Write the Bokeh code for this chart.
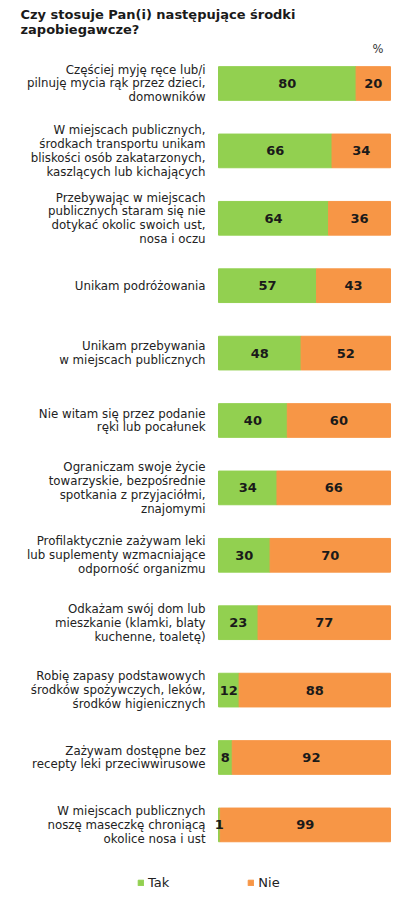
from bokeh.plotting import figure
from bokeh.models import ColumnDataSource, Range1d, Label, Legend, LegendItem
from bokeh.core.properties import value
from bokeh.embed import file_html
from bokeh.resources import INLINE

categories = [
    "Częściej myję ręce lub/i\npilnuję mycia rąk przez dzieci,\ndomowników",
    "W miejscach publicznych,\nśrodkach transportu unikam\nbliskości osób zakatarzonych,\nkaszlących lub kichających",
    "Przebywając w miejscach\npublicznych staram się nie\ndotykać okolic swoich ust,\nnosa i oczu",
    "Unikam podróżowania",
    "Unikam przebywania\nw miejscach publicznych",
    "Nie witam się przez podanie\nręki lub pocałunek",
    "Ograniczam swoje życie\ntowarzyskie, bezpośrednie\nspotkania z przyjaciółmi,\nznajomymi",
    "Profilaktycznie zażywam leki\nlub suplementy wzmacniające\nodporność organizmu",
    "Odkażam swój dom lub\nmieszkanie (klamki, blaty\nkuchenne, toaletę)",
    "Robię zapasy podstawowych\nśrodków spożywczych, leków,\nśrodków higienicznych",
    "Zażywam dostępne bez\nrecepty leki przeciwwirusowe",
    "W miejscach publicznych\nnoszę maseczkę chroniącą\nokolice nosa i ust",
]
tak = [80, 66, 64, 57, 48, 40, 34, 30, 23, 12, 8, 1]
nie = [20, 34, 36, 43, 52, 60, 66, 70, 77, 88, 92, 99]
series_names = ["Tak", "Nie"]
title_lines = ["Czy stosuje Pan(i) następujące środki", "zapobiegawcze?"]
unit_label = "%"

GREEN = "#92D050"
ORANGE = "#F79646"
FONT = "DejaVu Sans"

W, H = 397, 907
n = len(categories)
ys = list(range(n))
src = ColumnDataSource(dict(
    y=ys, tak=tak, nie=nie, label=categories,
    tak_mid=[t / 2 for t in tak],
    nie_mid=[t + v / 2 for t, v in zip(tak, nie)],
    tak_txt=[str(t) for t in tak],
    nie_txt=[str(v) for v in nie],
))

px_per_unit_x = 1.72
x0_px = 218
x_start = -x0_px / px_per_unit_x
x_end = (W - x0_px) / px_per_unit_x
px_per_row = 67.4
y_top = -83 / px_per_row
y_bottom = y_top + H / px_per_row

p = figure(width=W, height=H, output_backend="svg", toolbar_location=None,
           x_range=Range1d(x_start, x_end), y_range=Range1d(y_bottom, y_top),
           min_border=0, outline_line_color=None)
p.xaxis.visible = False
p.yaxis.visible = False
p.grid.visible = False
p.background_fill_color = "white"
p.border_fill_color = "white"

r_tak = p.hbar(y="y", left=0, right="tak", height=0.5, color=GREEN, source=src)
r_nie = p.hbar(y="y", left="tak", right=100, height=0.5, color=ORANGE, source=src)

p.text(x=-7.5, y="y", text="label", source=src, text_align="right",
       text_baseline="middle", text_font=value(FONT), text_font_size="11.8px",
       text_color="#222222", text_line_height=0.99)
p.text(x="tak_mid", y="y", text="tak_txt", source=src, text_align="center",
       text_baseline="middle", text_font=value(FONT), text_font_size="13px",
       text_font_style="bold", text_color="#1a1a1a")
p.text(x="nie_mid", y="y", text="nie_txt", source=src, text_align="center",
       text_baseline="middle", text_font=value(FONT), text_font_size="13px",
       text_font_style="bold", text_color="#1a1a1a")

for i, t in enumerate(title_lines):
    p.add_layout(Label(x=20, y=H - 6 - i * 15, x_units="screen", y_units="screen",
                       text=t, text_font=FONT, text_font_size="13px",
                       text_font_style="bold", text_baseline="top",
                       text_color="#1a1a1a"))
p.add_layout(Label(x=383, y=H - 48, x_units="screen", y_units="screen",
                   text=unit_label, text_font=FONT, text_font_size="11.5px",
                   text_align="right", text_baseline="middle", text_color="#333333"))

legend = Legend(items=[LegendItem(label=series_names[0], renderers=[r_tak]),
                       LegendItem(label=series_names[1], renderers=[r_nie])],
                orientation="horizontal", location=(137, 17),
                glyph_width=7, glyph_height=7, label_height=14,
                label_text_font=FONT, label_text_font_size="13px",
                label_text_color="#222222", label_standoff=4, spacing=78,
                padding=0, margin=0, border_line_color=None,
                background_fill_alpha=0)
p.add_layout(legend)

open("out.html", "w").write(file_html(p, INLINE))
